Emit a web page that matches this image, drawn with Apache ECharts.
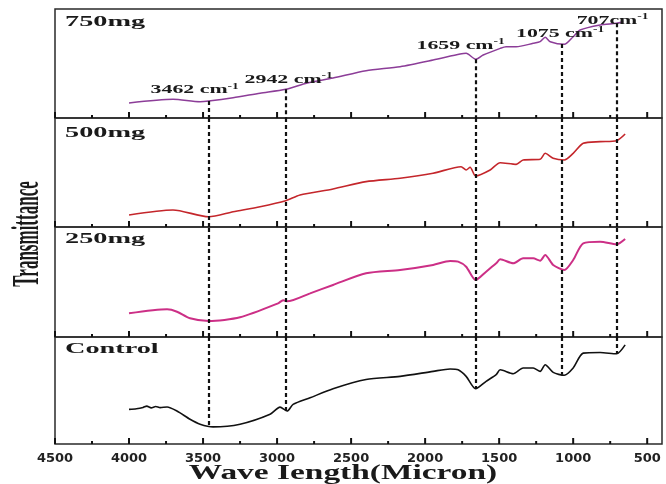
<!DOCTYPE html>
<html><head><meta charset="utf-8">
<script src="https://cdn.jsdelivr.net/npm/echarts@6/dist/echarts.min.js"></script>
<style>html,body{margin:0;padding:0;background:#fff}#c{width:666px;height:484px}</style>
</head><body><div id="c"></div>
<script>
// ---- data (wavenumber cm-1, relative transmittance within each panel) ----
const wn750 = [4000, 3703, 3520, 3462, 3297, 3115, 2942, 2797, 2622, 2399, 2169, 1946, 1764, 1723, 1659, 1608, 1493, 1453, 1385, 1270, 1223, 1189, 1155, 1060, 1000, 953, 818, 707, 662];
const t750  = [13.8, 17.2, 15, 15.6, 18.6, 22.7, 26.3, 32.1, 36.7, 43.4, 47.1, 53.2, 58.7, 59.4, 53.9, 57.8, 63.9, 65.4, 65.4, 68.5, 70, 74, 70, 67.6, 74.6, 80.7, 85.3, 86.9, 88.3];

const wn500 = [4000, 3703, 3462, 3297, 3115, 2942, 2845, 2622, 2399, 2169, 1946, 1757, 1723, 1696, 1659, 1561, 1493, 1385, 1338, 1223, 1189, 1135, 1060, 1000, 932, 818, 707, 649];
const t500  = [11, 15.6, 9.4, 14, 18.6, 24.1, 29.4, 34.9, 41.6, 44.7, 49.3, 55.3, 52.3, 54.8, 46.8, 52.3, 59, 57.5, 61.5, 62.1, 67.6, 63, 61.5, 67.6, 76.8, 78.3, 79.2, 85.3];

const wn250 = [4000, 3743, 3676, 3588, 3462, 3250, 2993, 2959, 2932, 2777, 2622, 2399, 2169, 1946, 1831, 1777, 1723, 1659, 1588, 1520, 1493, 1405, 1338, 1270, 1223, 1189, 1135, 1060, 1000, 932, 818, 707, 649];
const t250  = [21.5, 25.2, 23, 17, 14.5, 17.9, 30.6, 33.5, 32.5, 39.7, 47.3, 57.9, 60.9, 65.5, 69.1, 68.5, 63.9, 51.8, 59.4, 67, 70.6, 67, 71.5, 71.5, 69.4, 74.5, 65.5, 60.9, 70, 85.2, 86.6, 84.3, 89.1];

const wnCtl = [4000, 3950, 3905, 3880, 3850, 3820, 3790, 3743, 3676, 3588, 3520, 3432, 3250, 3047, 2980, 2932, 2892, 2777, 2622, 2399, 2169, 1946, 1831, 1777, 1723, 1659, 1588, 1520, 1493, 1405, 1338, 1270, 1223, 1189, 1135, 1060, 1000, 932, 818, 707, 649];
const tCtl  = [32.4, 33, 34.2, 35.4, 33.8, 35, 34, 34.6, 30.8, 23.1, 18.5, 16, 18.5, 27.8, 34.5, 30.8, 37, 43.2, 51.6, 60.2, 63.2, 67.9, 70.1, 69.4, 63.2, 51.6, 58.6, 64.8, 69.4, 65.7, 71, 71, 67.9, 74.1, 66.9, 64.2, 71, 84.9, 85.5, 84.3, 92.6];

const panelNames = ['750mg', '500mg', '250mg', 'Control'];
const peaks = [3462, 2942, 1659, 1075, 707];
const peakText = ['3462 cm', '2942 cm', '1659 cm', '1075 cm', '707cm'];
const majorTicks = [500, 1000, 1500, 2000, 2500, 3000, 3500, 4000, 4500];
const minorTicks = [750, 1250, 1750, 2250, 2750, 3250, 3750, 4250];
const xMax = 4500, xMin = 400;

// ---- styling / layout ----
const panels = [
  {wn: wn750, t: t750, color: '#8c3d98', width: 1.5},
  {wn: wn500, t: t500, color: '#c4262b', width: 1.6},
  {wn: wn250, t: t250, color: '#cc2f86', width: 2},
  {wn: wnCtl, t: tCtl, color: '#111111', width: 1.6}
];
const gridTops = [9, 118, 227, 337];
const gridHeights = [109, 109, 110, 107];
const nameDy = [13.5, 15, 12.5, 12];
const peakOffsets = [[-14, -11], [3, -10], [-15, -14], [-2, -10], [-4, -3]];
const majorLenPx = 6, minorLenPx = 3;

function interp(wn, t, v) {
  for (let i = 0; i < wn.length - 1; i++) {
    const a = wn[i], b = wn[i + 1];
    if (v <= a && v >= b) { const f = (a - v) / (a - b); return t[i] + f * (t[i + 1] - t[i]); }
  }
  return t[t.length - 1];
}

const chart = echarts.init(document.getElementById('c'), null, {renderer: 'canvas'});
const grids = [], xAxes = [], yAxes = [], series = [];
panels.forEach((p, i) => {
  grids.push({left: 55, right: 4, top: gridTops[i], height: gridHeights[i], show: true,
    outerBoundsMode: 'none', containLabel: false,
    borderColor: '#2a2a2a', borderWidth: 1.5, backgroundColor: 'rgba(255,255,255,0)'});
  xAxes.push({type: 'value', gridIndex: i, min: xMin, max: xMax, inverse: true, position: 'bottom',
    axisLine: {show: false}, splitLine: {show: false}, axisTick: {show: false},
    axisLabel: {show: i === 3, customValues: majorTicks, margin: 8, color: '#222',
      fontFamily: 'DejaVu Sans', fontWeight: 'bold', fontSize: 13, formatter: v => String(v)}});
  yAxes.push({type: 'value', gridIndex: i, min: 0, max: 100, show: false});

  const ml = peaks.map(v => {
    if (i === 0) return [{coord: [v, interp(p.wn, p.t, v)]}, {coord: [v, 0]}];
    if (i === 3) return [{coord: [v, 100]}, {coord: [v, interp(p.wn, p.t, v)]}];
    return [{coord: [v, 0]}, {coord: [v, 100]}];
  });
  series.push({
    type: 'line', xAxisIndex: i, yAxisIndex: i, showSymbol: false, smooth: 0.25,
    data: p.wn.map((w, k) => [w, p.t[k]]),
    lineStyle: {color: p.color, width: p.width}, itemStyle: {color: p.color},
    markLine: {silent: true, symbol: ['none', 'none'], label: {show: false},
      lineStyle: {color: '#111', width: 2.2, type: [4, 3]}, data: ml, animation: false}
  });
});

chart.setOption({
  animation: false, backgroundColor: '#ffffff',
  grid: grids, xAxis: xAxes, yAxis: yAxes, series: series
});

// ---- tick marks (positions from the axis scale) and texts ----
const g = [];
panels.forEach((p, i) => {
  const addTick = (v, len, w) => {
    const pt = chart.convertToPixel({xAxisIndex: i, yAxisIndex: i}, [v, 0]);
    g.push({type: 'rect', z: 100, silent: true,
      shape: {x: pt[0] - w / 2, y: pt[1] - len, width: w, height: len},
      style: {fill: '#111', stroke: null}});
  };
  majorTicks.forEach(v => addTick(v, majorLenPx, 2));
  minorTicks.forEach(v => addTick(v, minorLenPx, 2));
});
panelNames.forEach((n, i) => {
  g.push({type: 'text', x: 65, y: gridTops[i] + nameDy[i], scaleX: 1.95, z: 100,
    style: {text: n, font: 'bold 14.5px "Liberation Serif"', fill: '#1a1a1a',
      align: 'left', verticalAlign: 'middle', textAlign: 'left', textVerticalAlign: 'middle'}});
});
peaks.forEach((v, k) => {
  const pt = chart.convertToPixel({xAxisIndex: 0, yAxisIndex: 0}, [v, interp(wn750, t750, v)]);
  g.push({type: 'text', x: pt[0] + peakOffsets[k][0], y: pt[1] + peakOffsets[k][1], scaleX: 1.68, z: 100,
    style: {text: '{n|' + peakText[k] + '}{s|-1}', fill: '#1a1a1a',
      align: 'center', verticalAlign: 'middle', textAlign: 'center', textVerticalAlign: 'middle',
      rich: {n: {font: 'bold 13px "Liberation Serif"', fill: '#1a1a1a', lineHeight: 15},
             s: {font: 'bold 8px "Liberation Serif"', fill: '#1a1a1a', verticalAlign: 'top', lineHeight: 15}}}});
});
g.push({type: 'text', x: 343, y: 474, scaleX: 1.67, z: 100,
  style: {text: 'Wave Iength(Micron)', font: 'bold 20px "Liberation Serif"', fill: '#1a1a1a',
    align: 'center', verticalAlign: 'middle', textAlign: 'center', textVerticalAlign: 'middle'}});
g.push({type: 'text', x: 28.5, y: 234, rotation: Math.PI / 2, scaleY: 2.2, z: 100,
  style: {text: 'Transmittance', font: 'bold 17px "Liberation Serif"', fill: '#1a1a1a',
    align: 'center', verticalAlign: 'middle', textAlign: 'center', textVerticalAlign: 'middle'}});
chart.setOption({graphic: {elements: g}});
</script></body></html>
